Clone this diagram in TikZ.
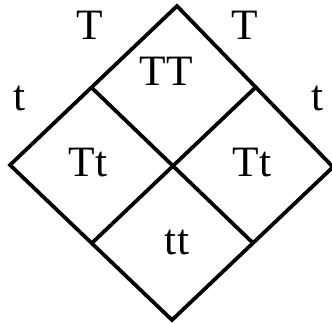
\documentclass[tikz,border=0pt]{standalone}
\usepackage{fontspec}
\setmainfont{Liberation Serif}
\usepackage{tikz}

\begin{document}
\begin{tikzpicture}[x=0.03cm, y=-0.03cm,
    gene/.style={font=\fontsize{37}{40}\selectfont, inner sep=0pt},
    grid/.style={line width=3.2pt, line join=miter}]
    \useasboundingbox (0,0) rectangle (332,323);

    % Ecken des Quadrats
    \coordinate (top) at (177,6);
    \coordinate (left) at (10,165);
    \coordinate (right) at (333,167);
    \coordinate (bottom) at (172,320);
    \coordinate (mid) at (173,166);
    \coordinate (tl) at (92,88);
    \coordinate (tr) at (257,86);
    \coordinate (bl) at (92,243);
    \coordinate (br) at (253,243);

    % Rahmen und Teilung
    \draw[grid] (top) -- (right) -- (bottom) -- (left) -- cycle;
    \draw[grid] (tl) -- (br);
    \draw[grid] (tr) -- (bl);

    % Keimzellen
    \node[gene] (gT1) at (90,25) {T};
    \node[gene] (gT2) at (245,25) {T};
    \node[gene] (gt1) at (20,99) {t};
    \node[gene] (gt2) at (318,99) {t};

    % Genotypen
    \node[gene] (TT) at (166,71) {TT};
    \node[gene] (Tt1) at (88,163) {Tt};
    \node[gene] (Tt2) at (252,163) {Tt};
    \node[gene] (tt) at (177,243) {tt};
\end{tikzpicture}
\end{document}
